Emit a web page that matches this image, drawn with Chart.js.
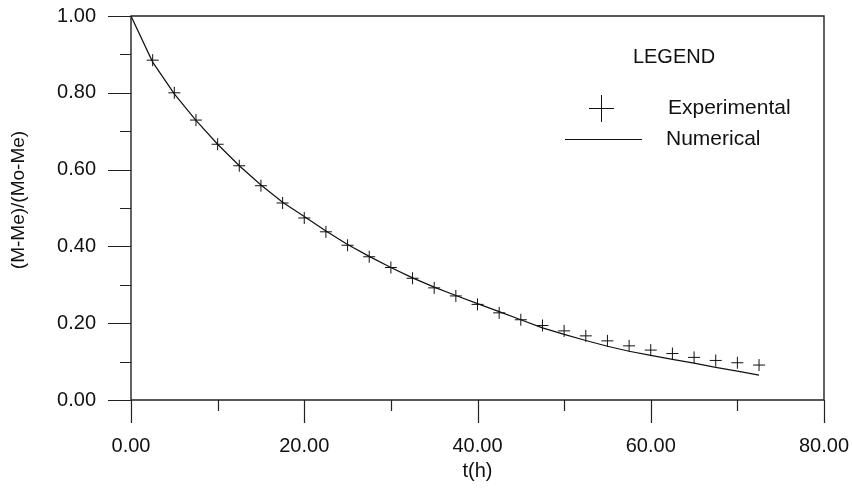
<!DOCTYPE html>
<html lang="en">
<head>
    <meta charset="UTF-8">
    <title>Drying curve</title>
    <script src="https://cdn.jsdelivr.net/npm/chart.js"></script>
    <style>
        html, body {
            margin: 0;
            padding: 0;
            background-color: white;
        }
        #chartBox {
            width: 853px;
            height: 490px;
        }
    </style>
</head>
<body>

<div id="chartBox">
    <canvas id="myChart"></canvas>
</div>

<script>
    // time of the experimental readings (h)
    const expTime = [2.5, 5, 7.5, 10, 12.5, 15, 17.5, 20, 22.5, 25, 27.5, 30, 32.5, 35, 37.5,
                     40, 42.5, 45, 47.5, 50, 52.5, 55, 57.5, 60, 62.5, 65, 67.5, 70, 72.5];
    const expValues = [0.885, 0.800, 0.729, 0.666, 0.610, 0.558, 0.513, 0.474, 0.438, 0.403,
                       0.373, 0.345, 0.317, 0.292, 0.271, 0.249, 0.227, 0.209, 0.194, 0.180,
                       0.167, 0.154, 0.141, 0.130, 0.121, 0.111, 0.103, 0.097, 0.091];

    // numerical solution
    const numTime = [0, 2.5, 5, 7.5, 10, 12.5, 15, 17.5, 20, 22.5, 25, 27.5, 30, 32.5, 35, 37.5,
                     40, 42.5, 45, 47.5, 50, 52.5, 55, 57.5, 60, 62.5, 65, 67.5, 70, 72.5];
    const numValues = [1.000, 0.880, 0.797, 0.728, 0.666, 0.610, 0.560, 0.515, 0.478, 0.440,
                       0.405, 0.374, 0.345, 0.318, 0.294, 0.272, 0.251, 0.230, 0.209, 0.188,
                       0.171, 0.155, 0.140, 0.127, 0.116, 0.106, 0.096, 0.085, 0.075, 0.065];

    const xTitle = 't(h)';
    const yTitle = '(M-Me)/(Mo-Me)';
    const legendTitle = 'LEGEND';
    const seriesNames = ['Experimental', 'Numerical'];

    const FONT = 'Arial, "Liberation Sans", sans-serif';
    const INK = '#111';

    // keep tick label overhang from shrinking the plot area
    function noOverhang(scale) {
        scale.paddingTop = 0;
        scale.paddingBottom = 0;
        scale.paddingLeft = 0;
        scale.paddingRight = 0;
    }

    // axes frame, outward major/minor ticks, y title and the legend
    const framePlugin = {
        id: 'framePlugin',
        beforeDraw(chart) {
            const c = chart.ctx;
            c.save();
            c.fillStyle = 'white';
            c.fillRect(0, 0, chart.width, chart.height);
            c.restore();
        },
        afterDraw(chart) {
            const c = chart.ctx;
            const a = chart.chartArea;
            const xs = chart.scales.x;
            const ys = chart.scales.y;
            c.save();
            c.strokeStyle = '#222';
            c.lineWidth = 1.4;
            c.beginPath();
            c.rect(a.left, a.top, a.right - a.left, a.bottom - a.top);
            c.stroke();

            c.lineWidth = 1.2;
            c.beginPath();
            xs.ticks.forEach(t => {
                const px = Math.round(xs.getPixelForValue(t.value)) + 0.5;
                const len = Math.round(t.value) % 20 === 0 ? 23 : 11;
                c.moveTo(px, a.bottom);
                c.lineTo(px, a.bottom + len);
            });
            ys.ticks.forEach(t => {
                const py = Math.round(ys.getPixelForValue(t.value)) + 0.5;
                const len = Math.round(t.value * 10) % 2 === 0 ? 23 : 11;
                c.moveTo(a.left, py);
                c.lineTo(a.left - len, py);
            });
            c.stroke();

            // y axis title
            c.fillStyle = INK;
            c.font = '19px ' + FONT;
            c.textAlign = 'center';
            c.textBaseline = 'middle';
            c.translate(19, 200);
            c.rotate(-Math.PI / 2);
            c.fillText(yTitle, 0, 0);
            c.setTransform(1, 0, 0, 1, 0, 0);

            // legend
            c.font = '20px ' + FONT;
            c.fillText(legendTitle, 674, 57);
            c.textAlign = 'left';
            c.font = '21px ' + FONT;
            c.fillText(seriesNames[0], 668, 108);
            c.fillText(seriesNames[1], 666, 139);

            c.strokeStyle = INK;
            c.lineWidth = 1;
            c.beginPath();
            c.moveTo(589, 108.5);
            c.lineTo(614, 108.5);
            c.moveTo(601.5, 95);
            c.lineTo(601.5, 122);
            c.moveTo(565, 139.5);
            c.lineTo(642, 139.5);
            c.stroke();
            c.restore();
        }
    };

    const ctx = document.getElementById('myChart').getContext('2d');

    const myChart = new Chart(ctx, {
        type: 'scatter',
        data: {
            datasets: [{
                label: seriesNames[0],
                data: expTime.map((t, i) => ({ x: t, y: expValues[i] })),
                showLine: false,
                pointStyle: 'cross',
                pointRadius: 6,
                pointBorderWidth: 1,
                borderColor: INK,
                backgroundColor: INK
            }, {
                label: seriesNames[1],
                data: numTime.map((t, i) => ({ x: t, y: numValues[i] })),
                showLine: true,
                pointRadius: 0,
                borderWidth: 1.2,
                borderColor: INK,
                tension: 0
            }]
        },
        options: {
            responsive: true,
            maintainAspectRatio: false,
            animation: false,
            layout: {
                padding: { top: 16, right: 29, left: 0, bottom: 0 }
            },
            scales: {
                x: {
                    type: 'linear',
                    position: 'bottom',
                    min: 0,
                    max: 80,
                    afterFit(scale) { scale.height = 90; noOverhang(scale); },
                    grid: { display: false, drawTicks: false },
                    border: { display: false },
                    ticks: {
                        stepSize: 10,
                        maxRotation: 0,
                        autoSkip: false,
                        padding: 34,
                        color: INK,
                        font: { family: FONT, size: 20 },
                        callback: v => (Math.round(v) % 20 === 0 ? v.toFixed(2) : '')
                    },
                    title: {
                        display: true,
                        text: xTitle,
                        color: INK,
                        font: { family: FONT, size: 20 },
                        padding: { top: 0, bottom: 7 }
                    }
                },
                y: {
                    min: 0,
                    max: 1,
                    afterFit(scale) { scale.width = 131; noOverhang(scale); },
                    grid: { display: false, drawTicks: false },
                    border: { display: false },
                    ticks: {
                        stepSize: 0.1,
                        autoSkip: false,
                        padding: 35,
                        color: INK,
                        font: { family: FONT, size: 20 },
                        callback: v => (Math.round(v * 10) % 2 === 0 ? v.toFixed(2) : '')
                    }
                }
            },
            plugins: {
                legend: { display: false },
                tooltip: { enabled: false }
            }
        },
        plugins: [framePlugin]
    });
</script>
</body>
</html>
